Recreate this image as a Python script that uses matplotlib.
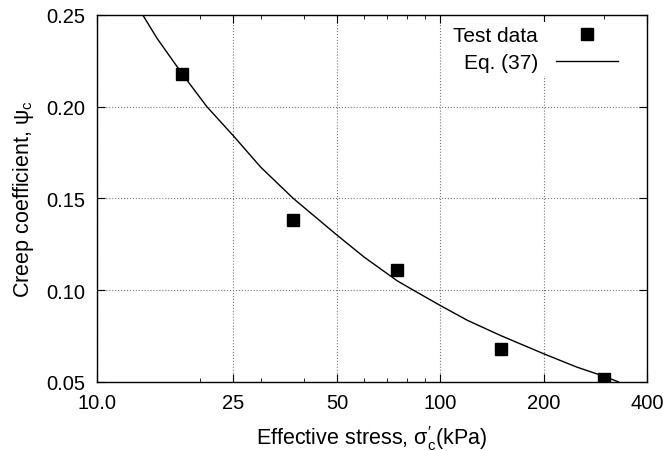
import matplotlib.pyplot as plt
import matplotlib.ticker as ticker

plt.rcParams['font.family'] = ['Liberation Sans', 'DejaVu Sans']
plt.rcParams['mathtext.fontset'] = 'dejavusans'

# test data
stress_test = [17.7, 37.3, 75.0, 150.0, 299.0]
psi_test = [0.218, 0.138, 0.111, 0.068, 0.0515]

# Eq. (37) curve
stress_eq = [13.6, 15.0, 17.7, 20.9, 25.0, 30.0, 37.3, 50.0, 60.0, 75.0,
             83.4, 100.0, 120.0, 150.0, 200.0, 250.0, 300.0, 330.0]
psi_eq = [0.250, 0.237, 0.218, 0.200, 0.184, 0.167, 0.150, 0.130, 0.118, 0.105,
          0.100, 0.0916, 0.0835, 0.0752, 0.0653, 0.0580, 0.0530, 0.0500]

xticks = [10, 25, 50, 100, 200, 400]
xticklabels = ['10.0', '25', '50', '100', '200', '400']
yticks = [0.05, 0.10, 0.15, 0.20, 0.25]

fig = plt.figure(figsize=(6.63, 4.52), dpi=100)
ax = fig.add_axes([0.146, 0.153, 0.83, 0.812])

ax.plot(stress_test, psi_test, 's', color='black', ms=9, label='Test data', zorder=3)
ax.plot(stress_eq, psi_eq, '-', color='black', lw=1.0, label='Eq. (37)', zorder=2)

ax.set_xscale('log')
ax.set_xlim(10, 400)
ax.set_ylim(0.05, 0.25)
ax.set_xticks(xticks)
ax.set_xticklabels(xticklabels)
ax.xaxis.set_minor_locator(ticker.FixedLocator([20, 30, 40, 60, 70, 80, 90, 300]))
ax.xaxis.set_minor_formatter(ticker.NullFormatter())
ax.set_yticks(yticks)
ax.set_yticklabels(['%.2f' % v for v in yticks])

ax.grid(True, which='major', linestyle=':', color='#777777', lw=0.8)
ax.tick_params(which='both', direction='in', top=True, right=True, labelsize=14.5)
ax.tick_params(axis='x', which='major', length=6, pad=8)
ax.tick_params(axis='y', which='major', length=6, pad=8)
ax.tick_params(which='minor', length=3)
for s in ax.spines.values():
    s.set_linewidth(1.0)

ax.set_xlabel("Effective stress, σ$\\mathregular{^{\\prime}_{c}}$(kPa)", fontsize=15.5, labelpad=8)
ax.set_ylabel("Creep coefficient, ψ$\\mathregular{_{c}}$", fontsize=15.5, labelpad=8)

leg = ax.legend(loc='upper right', bbox_to_anchor=(0.955, 0.98), markerfirst=False,
                frameon=True, fontsize=15, handlelength=3.0, handletextpad=0.85,
                borderpad=0.2, borderaxespad=0, labelspacing=0.38, fancybox=False)
leg.get_frame().set_edgecolor('none')
leg.get_frame().set_alpha(1.0)
for t in leg.get_texts():
    t.set_ha('right')

fig.savefig('out.png', dpi=100)
